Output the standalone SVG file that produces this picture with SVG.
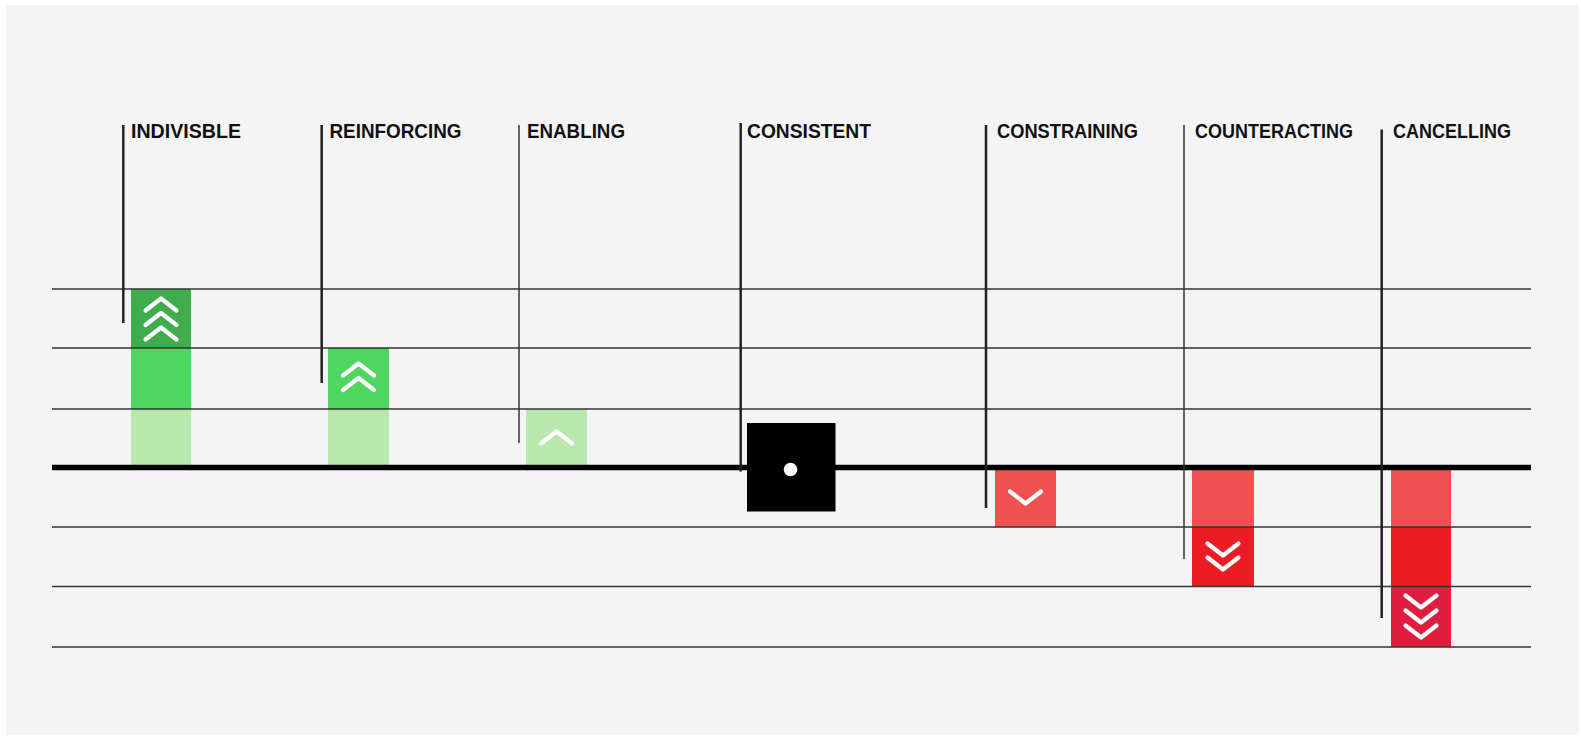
<svg xmlns="http://www.w3.org/2000/svg" xmlns:xlink="http://www.w3.org/1999/xlink" width="1581" height="736" viewBox="0 0 1581 736">
  <style>
    .lbl { font-family: "Liberation Sans", Arial, sans-serif; font-weight: bold; font-size: 19.5px; fill: #111; }
    .grid { stroke: #333; stroke-width: 1.4; }
    .axis { stroke: #000; stroke-width: 5.5; }
    .lead { stroke: #222; stroke-width: 2.5; }
    .lead-thin { stroke: #333; stroke-width: 1.5; }
    .chev { fill: none; stroke: #fff; stroke-width: 4.2; stroke-linecap: round; stroke-linejoin: round; }
    .g-dark { fill: #40ad4c; }
    .g-mid { fill: #4dd660; }
    .g-light { fill: #b8e8ab; }
    .r-light { fill: #ee5150; }
    .r-mid { fill: #ed1c24; }
    .r-dark { fill: #dd1e3e; }
  </style>
  <defs>
    <path id="up" class="chev" d="M-15.5,6 L0,-6 L15.5,6"/>
    <path id="down" class="chev" d="M-15.5,-6 L0,6 L15.5,-6"/>
  </defs>

  <rect x="0" y="0" width="1581" height="736" fill="#ffffff"/>
  <rect x="6" y="5" width="1573" height="730" fill="#f4f4f4"/>

  <g id="bars">
    <g id="indivisible-bar">
      <rect class="g-dark" x="131" y="289" width="60" height="59"/>
      <rect class="g-mid" x="131" y="348" width="60" height="61"/>
      <rect class="g-light" x="131" y="409" width="60" height="58"/>
    </g>
    <g id="reinforcing-bar">
      <rect class="g-mid" x="328" y="348" width="61" height="61"/>
      <rect class="g-light" x="328" y="409" width="61" height="58"/>
    </g>
    <g id="enabling-bar">
      <rect class="g-light" x="526" y="409" width="61" height="58"/>
    </g>
    <g id="constraining-bar">
      <rect class="r-light" x="995" y="467" width="61" height="60"/>
    </g>
    <g id="counteracting-bar">
      <rect class="r-light" x="1192" y="467" width="62" height="60"/>
      <rect class="r-mid" x="1192" y="527" width="62" height="59.5"/>
    </g>
    <g id="cancelling-bar">
      <rect class="r-light" x="1391" y="467" width="60" height="60"/>
      <rect class="r-mid" x="1391" y="527" width="60" height="59.5"/>
      <rect class="r-dark" x="1391" y="586.5" width="60" height="60.5"/>
    </g>
  </g>

  <g id="connectors">
    <line class="grid" x1="52" y1="289" x2="1531" y2="289"/>
    <line class="grid" x1="52" y1="348" x2="1531" y2="348"/>
    <line class="grid" x1="52" y1="409" x2="1531" y2="409"/>
    <line class="grid" x1="52" y1="527" x2="1531" y2="527"/>
    <line class="grid" x1="52" y1="586.5" x2="1531" y2="586.5"/>
    <line class="grid" x1="52" y1="647" x2="1531" y2="647"/>
    <line class="axis" x1="52" y1="467.5" x2="1531" y2="467.5"/>
  </g>

  <g id="indivisible">
    <line class="lead" x1="123.3" y1="125" x2="123.3" y2="323"/>
    <text class="lbl" x="131" y="138" textLength="110" lengthAdjust="spacingAndGlyphs">INDIVISBLE</text>
    <use xlink:href="#up" href="#up" x="161" y="304.5"/>
    <use xlink:href="#up" href="#up" x="161" y="319"/>
    <use xlink:href="#up" href="#up" x="161" y="333.5"/>
  </g>

  <g id="reinforcing">
    <line class="lead" x1="321.7" y1="125" x2="321.7" y2="383"/>
    <text class="lbl" x="329.5" y="138" textLength="132" lengthAdjust="spacingAndGlyphs">REINFORCING</text>
    <use xlink:href="#up" href="#up" x="358.5" y="369.5"/>
    <use xlink:href="#up" href="#up" x="358.5" y="384"/>
  </g>

  <g id="enabling">
    <line class="lead-thin" x1="519" y1="125" x2="519" y2="443"/>
    <text class="lbl" x="527" y="138" textLength="98" lengthAdjust="spacingAndGlyphs">ENABLING</text>
    <use xlink:href="#up" href="#up" x="556.5" y="437.5"/>
  </g>

  <g id="consistent">
    <line class="lead" x1="740.7" y1="123" x2="740.7" y2="471.5"/>
    <text class="lbl" x="747" y="138" textLength="124" lengthAdjust="spacingAndGlyphs">CONSISTENT</text>
    <rect x="747" y="423" width="88.5" height="88.5" fill="#000"/>
    <circle cx="790.5" cy="469.5" r="6.8" fill="#fff"/>
  </g>

  <g id="constraining">
    <line class="lead" x1="986" y1="125" x2="986" y2="508"/>
    <text class="lbl" x="997" y="138" textLength="141" lengthAdjust="spacingAndGlyphs">CONSTRAINING</text>
    <use xlink:href="#down" href="#down" x="1025.5" y="497.5"/>
  </g>

  <g id="counteracting">
    <line class="lead-thin" x1="1184" y1="125" x2="1184" y2="559"/>
    <text class="lbl" x="1195" y="138" textLength="158" lengthAdjust="spacingAndGlyphs">COUNTERACTING</text>
    <use xlink:href="#down" href="#down" x="1223" y="549.5"/>
    <use xlink:href="#down" href="#down" x="1223" y="563.5"/>
  </g>

  <g id="cancelling">
    <line class="lead" x1="1381.7" y1="129.5" x2="1381.7" y2="618"/>
    <text class="lbl" x="1393" y="138" textLength="118" lengthAdjust="spacingAndGlyphs">CANCELLING</text>
    <use xlink:href="#down" href="#down" x="1421" y="601.5"/>
    <use xlink:href="#down" href="#down" x="1421" y="616.5"/>
    <use xlink:href="#down" href="#down" x="1421" y="631.5"/>
  </g>
</svg>
